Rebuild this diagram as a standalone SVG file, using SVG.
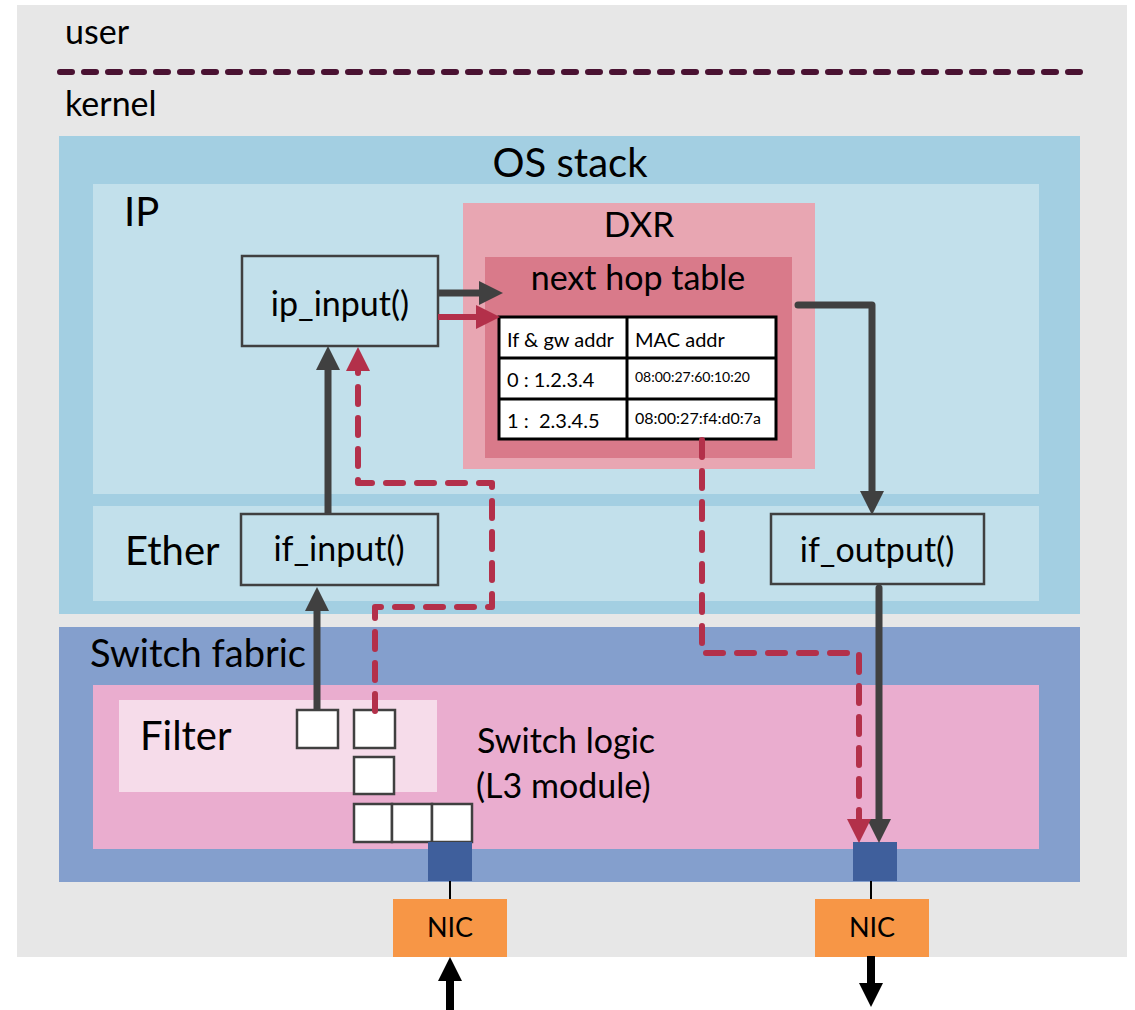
<svg xmlns="http://www.w3.org/2000/svg" width="1135" height="1010" viewBox="0 0 1135 1010">
  <style>
    text { font-family: Lato, "Liberation Sans", sans-serif; fill: #000; }
    .lbl { font-size: 40px; }
    .small { font-size: 34px; }
    .fn { font-size: 34px; text-anchor: middle; }
    .cell { font-size: 20px; }
    .nic-t { font-size: 27px; text-anchor: middle; }
    .fnbox { fill: #c2e0eb; stroke: #404040; stroke-width: 2.5; }
    .sq { fill: #ffffff; stroke: #404040; stroke-width: 2.5; }
    .port { fill: #3f5f9c; }
    .nic { fill: #f79646; }
    .solid { fill: none; stroke: #404040; stroke-width: 7; stroke-linejoin: round; }
    .flow { fill: none; stroke: #b3304a; stroke-width: 6; stroke-linecap: round; stroke-linejoin: round; stroke-dasharray: 17 14; }
    .redsolid { fill: none; stroke: #b3304a; stroke-width: 6; }
    .wire { stroke: #000; stroke-width: 2; }
    .ext { fill: none; stroke: #000; stroke-width: 8; }
  </style>
  <defs>
    <marker id="headDark" markerUnits="userSpaceOnUse" markerWidth="24" markerHeight="24" refX="1" refY="12" orient="auto">
      <path d="M0,0 L24,12 L0,24 z" fill="#404040"/>
    </marker>
    <marker id="headRed" markerUnits="userSpaceOnUse" markerWidth="24" markerHeight="24" refX="1" refY="12" orient="auto">
      <path d="M0,0 L24,12 L0,24 z" fill="#b3304a"/>
    </marker>
    <marker id="headBlack" markerUnits="userSpaceOnUse" markerWidth="24" markerHeight="24" refX="1" refY="12" orient="auto">
      <path d="M0,0 L24,12 L0,24 z" fill="#000"/>
    </marker>
  </defs>

  <!-- page -->
  <rect x="0" y="0" width="1135" height="1010" fill="#ffffff"/>
  <rect x="17" y="5" width="1110" height="952" fill="#e7e7e7"/>

  <!-- user / kernel boundary -->
  <g id="boundary">
    <text class="small" x="65" y="44">user</text>
    <line x1="60" y1="72" x2="1080" y2="72" stroke="#4a1232" stroke-width="6" stroke-linecap="round" stroke-dasharray="12 12"/>
    <text class="small" x="65" y="116">kernel</text>
  </g>

  <!-- OS stack -->
  <g id="os-stack">
    <rect x="59" y="136" width="1021" height="478" fill="#a3cfe2"/>
    <text class="lbl" x="570" y="177" text-anchor="middle">OS stack</text>
  </g>
  <g id="ip-layer">
    <rect x="93" y="184" width="946" height="310" fill="#c2e0eb"/>
    <text class="lbl" x="124" y="226">IP</text>
  </g>
  <g id="ether-layer">
    <rect x="93" y="506" width="946" height="95" fill="#c2e0eb"/>
    <text class="lbl" x="125" y="565">Ether</text>
  </g>

  <!-- DXR lookup -->
  <g id="dxr">
    <rect x="463" y="203" width="352" height="266" fill="#e8a6b2"/>
    <text x="639" y="237" font-size="35" text-anchor="middle">DXR</text>
  </g>
  <g id="next-hop-table">
    <rect x="485" y="257" width="307" height="201" fill="#d97a8a"/>
    <text x="638" y="290" font-size="34" text-anchor="middle">next hop table</text>
    <rect x="499" y="317" width="277" height="122" fill="#ffffff" stroke="#000" stroke-width="3"/>
    <line x1="627" y1="317" x2="627" y2="439" stroke="#000" stroke-width="3"/>
    <line x1="499" y1="358" x2="776" y2="358" stroke="#000" stroke-width="3"/>
    <line x1="499" y1="399" x2="776" y2="399" stroke="#000" stroke-width="3"/>
    <text class="cell" x="507" y="347">If &amp; gw addr</text>
    <text class="cell" x="635" y="347">MAC addr</text>
    <text class="cell" x="507" y="387">0 : 1.2.3.4</text>
    <text x="635" y="382" font-size="14">08:00:27:60:10:20</text>
    <text class="cell" x="507" y="428" xml:space="preserve">1 :  2.3.4.5</text>
    <text x="635" y="424" font-size="16">08:00:27:f4:d0:7a</text>
  </g>

  <!-- function nodes -->
  <g id="ip-input">
    <rect class="fnbox" x="242" y="256" width="196" height="90"/>
    <text class="fn" x="340" y="316">ip_input()</text>
  </g>
  <g id="if-input">
    <rect class="fnbox" x="241" y="514" width="197" height="71"/>
    <text class="fn" x="339" y="561">if_input()</text>
  </g>
  <g id="if-output">
    <rect class="fnbox" x="771" y="514" width="213" height="70"/>
    <text class="fn" x="877" y="562">if_output()</text>
  </g>

  <!-- Switch fabric -->
  <g id="switch-fabric">
    <rect x="59" y="627" width="1021" height="255" fill="#849fcd"/>
    <text x="90" y="667" font-size="38">Switch fabric</text>
  </g>
  <g id="switch-logic">
    <rect x="93" y="685" width="946" height="164" fill="#eaadcf"/>
    <text x="477" y="753" font-size="34">Switch logic</text>
    <text x="476" y="798" font-size="34">(L3 module)</text>
  </g>
  <g id="filter">
    <rect x="119" y="700" width="318" height="92" fill="#f6dcea"/>
    <text class="lbl" x="140" y="750">Filter</text>
  </g>
  <g id="queues">
    <rect class="sq" x="297" y="710" width="41" height="38"/>
    <rect class="sq" x="354" y="710" width="41" height="38"/>
    <rect class="sq" x="354" y="757" width="40" height="37"/>
    <rect class="sq" x="354" y="804" width="38" height="38"/>
    <rect class="sq" x="392" y="804" width="40" height="38"/>
    <rect class="sq" x="432" y="804" width="40" height="38"/>
  </g>

  <!-- ports and NICs -->
  <g id="port-in">
    <rect class="port" x="428" y="842" width="44" height="39"/>
  </g>
  <g id="port-out">
    <rect class="port" x="853" y="842" width="44" height="39"/>
  </g>
  <g id="nic-in">
    <rect class="nic" x="393" y="899" width="114" height="58"/>
    <text class="nic-t" x="450" y="937">NIC</text>
  </g>
  <g id="nic-out">
    <rect class="nic" x="815" y="899" width="114" height="58"/>
    <text class="nic-t" x="872" y="937">NIC</text>
  </g>

  <!-- connectors -->
  <g id="connectors">
    <line class="wire" x1="450" y1="881" x2="450" y2="899"/>
    <line class="wire" x1="871" y1="881" x2="871" y2="899"/>

    <path class="ext" d="M450,1010 V980" marker-end="url(#headBlack)"/>
    <path class="ext" d="M871,956 V984" marker-end="url(#headBlack)"/>

    <path class="solid" d="M317,710 V610" marker-end="url(#headDark)"/>
    <path class="solid" d="M328,514 V369" marker-end="url(#headDark)"/>
    <path class="solid" d="M438,293 H480" marker-end="url(#headDark)"/>
    <path class="solid" d="M798,305 H872 V492" stroke-linecap="round" marker-end="url(#headDark)"/>
    <path class="solid" d="M879,588 V820" stroke-linecap="round" marker-end="url(#headDark)"/>

    <path class="redsolid" d="M438,317 H477" marker-end="url(#headRed)"/>
    <path class="flow" d="M375,711 V607 H492 V483 H358 V370" marker-end="url(#headRed)"/>
    <path class="flow" d="M702,440 V653 H859 V820" marker-end="url(#headRed)"/>
  </g>
</svg>
